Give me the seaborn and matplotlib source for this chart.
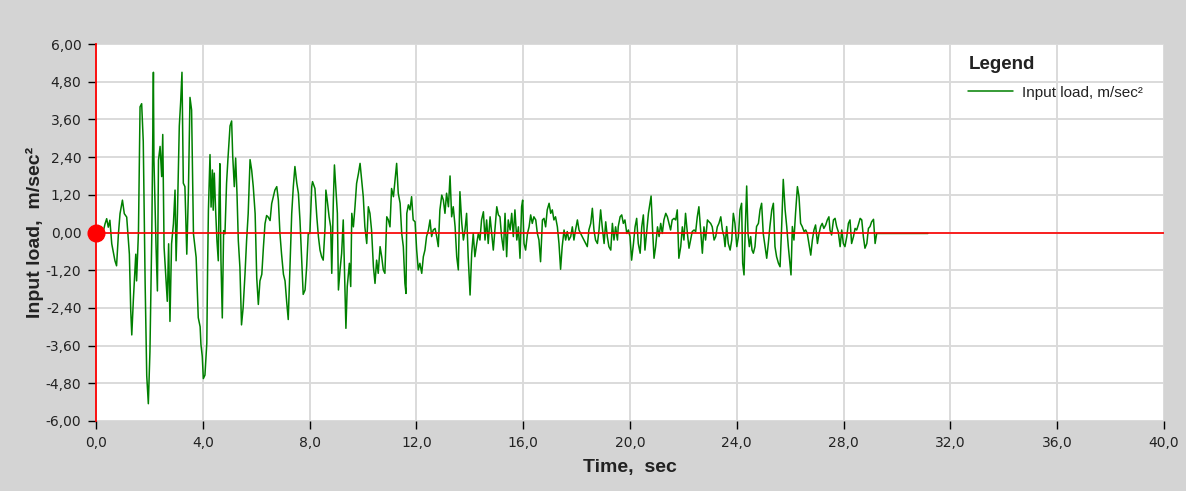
import numpy as np
import pandas as pd
import matplotlib
matplotlib.use("Agg")
import matplotlib.pyplot as plt
import seaborn as sns

# ---- data (time in s, acceleration in m/sec^2) ----
time_s = [
    0.00, 0.15, 0.25, 0.34, 0.40, 0.46, 0.52, 0.59, 0.71, 0.77, 0.84, 0.90, 0.99, 1.06, 1.15, 1.25,
    1.30, 1.34, 1.40, 1.49, 1.52, 1.59, 1.65, 1.71, 1.77, 1.84, 1.90, 1.96, 2.02, 2.09, 2.15, 2.17,
    2.25, 2.30, 2.34, 2.40, 2.46, 2.50, 2.55, 2.62, 2.67, 2.72, 2.77, 2.83, 2.90, 2.96, 3.00, 3.05,
    3.12, 3.17, 3.22, 3.27, 3.33, 3.40, 3.46, 3.52, 3.58, 3.65, 3.75, 3.83, 3.90,
    3.93, 3.98, 4.02, 4.08, 4.15, 4.18, 4.21, 4.27, 4.31, 4.36, 4.39, 4.43, 4.48, 4.53, 4.58, 4.61,
    4.64, 4.68, 4.73, 4.78, 4.83, 4.89, 4.94, 5.02, 5.08, 5.12, 5.18, 5.23, 5.28, 5.33, 5.39, 5.45,
    5.51, 5.58, 5.64, 5.70, 5.77, 5.83, 5.89, 5.96, 6.02, 6.08, 6.14, 6.21, 6.27, 6.33, 6.39, 6.45,
    6.52, 6.58, 6.64, 6.70, 6.77, 6.83, 6.89, 6.95, 7.02, 7.08, 7.14, 7.20, 7.27, 7.33, 7.39, 7.45,
    7.52, 7.58, 7.64, 7.70, 7.76,
    7.83, 7.89, 7.95, 8.01, 8.08, 8.11, 8.20, 8.27, 8.33, 8.39, 8.45, 8.51, 8.58, 8.61, 8.66, 8.73,
    8.79, 8.83, 8.89, 8.93, 8.98, 9.04, 9.08, 9.14, 9.20, 9.26, 9.33, 9.36, 9.41, 9.49, 9.54, 9.58,
    9.64, 9.70, 9.76, 9.83, 9.89, 9.95, 10.01, 10.07, 10.14, 10.20, 10.26, 10.32, 10.39, 10.45, 10.51,
    10.57, 10.64, 10.70, 10.76, 10.82, 10.89, 10.95, 11.01, 11.07, 11.14, 11.20, 11.26, 11.32, 11.39,
    11.45, 11.51, 11.57, 11.61, 11.64,
    11.70, 11.76, 11.82, 11.88, 11.95, 12.01, 12.07, 12.13, 12.20, 12.26, 12.32, 12.38, 12.45, 12.51,
    12.57, 12.63, 12.70, 12.76, 12.82, 12.88, 12.95, 13.01, 13.07, 13.13, 13.20, 13.26, 13.32, 13.38,
    13.45, 13.51, 13.57, 13.63, 13.70, 13.76, 13.82, 13.88, 13.94, 14.01, 14.07, 14.13, 14.19, 14.26,
    14.32, 14.38, 14.44, 14.51, 14.57, 14.63, 14.69, 14.76, 14.82, 14.88, 14.94, 15.01, 15.07, 15.13,
    15.19, 15.26, 15.32, 15.38, 15.44, 15.51, 15.57, 15.63,
    15.69, 15.76, 15.82, 15.88, 15.94, 15.98, 16.03, 16.09, 16.16, 16.22, 16.28, 16.34, 16.40, 16.47,
    16.53, 16.59, 16.65, 16.72, 16.78, 16.84, 16.90, 16.97, 17.03, 17.09, 17.15, 17.21, 17.28, 17.34,
    17.40, 17.46, 17.53, 17.59, 17.65, 17.71, 17.78, 17.84, 17.90, 17.96, 18.03, 18.09, 18.15, 18.21,
    18.28, 18.34, 18.40, 18.46, 18.53, 18.59, 18.65, 18.71, 18.78, 18.84, 18.90, 18.96, 19.03, 19.09,
    19.15, 19.21, 19.28, 19.34, 19.40, 19.46, 19.53,
    19.56, 19.63, 19.69, 19.75, 19.81, 19.88, 19.94, 20.00, 20.06, 20.13, 20.19, 20.25, 20.31, 20.38,
    20.44, 20.50, 20.56, 20.63, 20.69, 20.75, 20.79, 20.84, 20.90, 20.96, 21.03, 21.09, 21.15, 21.21,
    21.27, 21.34, 21.40, 21.46, 21.52, 21.58, 21.65, 21.71, 21.77, 21.83, 21.90, 21.96, 22.02, 22.08,
    22.15, 22.21, 22.27, 22.33, 22.40, 22.46, 22.52, 22.58, 22.65, 22.71, 22.77, 22.83, 22.90, 22.96,
    23.02, 23.08, 23.15, 23.21, 23.27, 23.33, 23.40, 23.46, 23.52,
    23.56, 23.62, 23.68, 23.75, 23.81, 23.87, 23.93, 24.00, 24.06, 24.12, 24.18, 24.22, 24.27, 24.32,
    24.37, 24.42, 24.47, 24.52, 24.57, 24.62, 24.68, 24.74, 24.81, 24.87, 24.93, 24.99, 25.06, 25.12,
    25.18, 25.24, 25.31, 25.37, 25.43, 25.49, 25.56, 25.62, 25.68, 25.74, 25.81, 25.87, 25.93, 25.99,
    26.03, 26.08, 26.14, 26.20, 26.27, 26.33, 26.39, 26.45, 26.52, 26.58, 26.64, 26.70, 26.77, 26.83,
    26.89, 26.95, 27.02, 27.08, 27.14, 27.20, 27.26, 27.33, 27.39, 27.45,
    27.49, 27.55, 27.62, 27.68, 27.74, 27.80, 27.87, 27.93, 27.99, 28.05, 28.12, 28.18, 28.24, 28.30,
    28.37, 28.43, 28.49, 28.55, 28.62, 28.68, 28.74, 28.80, 28.87, 28.93, 28.99, 29.05, 29.12, 29.18,
    29.24, 29.30, 31.16,
]

accel = [
    0.00, 0.05, -0.05, 0.28, 0.44, 0.17, 0.39, -0.36, -0.90, -1.06, -0.04, 0.60, 1.03, 0.60, 0.49, -0.69,
    -2.46, -3.26, -2.13, -0.69, -1.54, 0.01, 4.00, 4.10, 2.90, -1.60, -4.55, -5.45, -3.80, -0.04, 5.10, 2.30,
    -0.47, -1.86, 2.30, 2.74, 1.78, 3.12, -0.47, -1.44, -2.19, -0.36, -2.83, -0.36, 0.28, 1.35, -0.90, 0.60,
    3.39, 4.14, 5.10, 1.57, 1.46, -0.69, 1.25, 4.30, 3.90, -0.04, -0.79, -2.71, -3.00,
    -3.56, -3.94, -4.65, -4.54, -3.52, -1.11, 0.71, 2.48, 0.81, 1.99, 0.71, 1.89, 0.71, -0.26, -0.90, 1.14,
    2.19, -0.90, -2.72, 0.06, -0.04, 1.57, 2.32, 3.39, 3.55, 2.44, 1.46, 2.37, 1.25, -0.26, -1.11, -2.94,
    -2.40, -1.33, -0.26, 0.60, 2.32, 1.99, 1.46, 0.60, -1.44, -2.29, -1.54, -1.33, -0.47, 0.28, 0.54, 0.49,
    0.38, 0.92, 1.14, 1.35, 1.46, 1.03, -0.04, -0.69, -1.33, -1.54, -2.19, -2.77, -0.90, 0.60, 1.46, 2.10,
    1.57, 1.25, 0.38, -0.79, -1.97,
    -1.83, -1.09, -0.03, -0.03, 1.46, 1.62, 1.40, 0.50, -0.13, -0.56, -0.77, -0.88, 0.18, 1.35, 1.03, 0.50,
    0.18, -1.30, 1.03, 2.15, 1.46, 0.61, -1.83, -1.19, -0.66, 0.40, -1.94, -3.05, -1.72, -0.98, -1.72, 0.61,
    0.18, 0.82, 1.56, 1.88, 2.20, 1.67, 1.14, 0.18, -0.35, 0.82, 0.61, 0.08, -1.09, -1.62, -0.88,
    -1.30, -0.45, -0.77, -1.19, -1.30, 0.50, 0.40, 0.18, 1.40, 1.14, 1.67, 2.20, 1.25, 0.93,
    -0.03, -0.45, -1.62, -1.94, 0.61,
    0.88, 0.72, 1.14, 0.40, 0.34, -0.56, -1.19, -0.98, -1.30, -0.77, -0.56, -0.13, 0.08, 0.40,
    -0.13, 0.08, 0.13, -0.13, -0.45, 0.72, 1.19, 1.03, 0.61, 1.25, 0.82, 1.80, 0.50, 0.82,
    0.18, -0.77, -1.19, 1.30, 0.29, -0.24, 0.08, 0.61, -0.77, -1.99, -0.66, -0.03, -0.77, -0.35,
    -0.03, -0.24, 0.40, 0.66, -0.24, 0.40, -0.35, 0.50, -0.03, -0.56, 0.08, 0.82, 0.56, 0.50,
    -0.13, -0.56, 0.61, -0.77, 0.40, 0.08, 0.61, -0.13,
    0.72, -0.24, 0.18, -0.82, 0.82, 1.03, -0.35, -0.56, -0.03, 0.18, 0.56, 0.29, 0.50, 0.40,
    -0.03, -0.24, -0.93, 0.40, 0.45, 0.18, 0.72, 0.93, 0.61, 0.72, 0.40, 0.50, 0.18, -0.35,
    -1.17, -0.45, 0.08, -0.24, 0.03, -0.24, -0.13, 0.18, -0.24, 0.08, 0.40, 0.08, -0.03, -0.13,
    -0.24, -0.35, -0.45, 0.08, 0.29, 0.77, 0.08, -0.24, -0.35, 0.08, 0.72, 0.18, -0.35, 0.34,
    -0.13, -0.45, -0.56, 0.29, -0.24, 0.18, -0.24,
    0.19, 0.50, 0.56, 0.29, 0.40, -0.03, 0.08, -0.13, -0.88, -0.35, 0.18, 0.45, -0.35, -0.66,
    0.18, 0.56, -0.56, 0.08, 0.61, 0.93, 1.16, 0.18, -0.82, -0.45, 0.18, -0.13, 0.29, -0.03,
    0.40, 0.61, 0.50, 0.29, 0.08, 0.40, 0.45, 0.40, 0.72, -0.82, -0.45, 0.18, -0.24, 0.61,
    -0.03, -0.50, -0.24, 0.03, 0.08, 0.03, 0.50, 0.82, 0.03, -0.66, 0.18, -0.24, 0.40, 0.34,
    0.29, 0.18, -0.24, -0.13, 0.18, 0.29, 0.50, 0.08, -0.13,
    -0.45, 0.19, -0.35, -0.56, -0.24, 0.61, 0.29, -0.45, -0.13, 0.72, 0.93, -0.98, -1.35, 0.19,
    1.48, -0.03, -0.45, -0.13, -0.56, -0.66, -0.45, 0.19, 0.29, 0.72, 0.93, -0.03, -0.45, -0.82,
    -0.35, 0.19, 0.72, 0.93, -0.45, -0.77, -0.98, -1.09, 0.19, 1.69, 0.72, 0.19, -0.45, -0.98,
    -1.35, 0.19, -0.24, 0.61, 1.46, 1.14, 0.29, 0.19, 0.03, 0.08, -0.03, -0.35, -0.72, -0.24,
    0.08, 0.24, -0.35, -0.03, 0.19, 0.29, 0.13, 0.24, 0.40, 0.50,
    0.08, -0.08, 0.40, 0.45, 0.19, 0.03, -0.45, 0.08, -0.35, -0.45, -0.13, 0.29, 0.40, -0.35,
    -0.13, 0.13, 0.08, 0.24, 0.45, 0.40, -0.13, -0.50, -0.35, 0.13, 0.19, 0.34, 0.42, -0.35,
    -0.03, -0.03, -0.03,
]

x_ticks = [0, 4, 8, 12, 16, 20, 24, 28, 32, 36, 40]
x_tick_labels = ["0,0", "4,0", "8,0", "12,0", "16,0", "20,0", "24,0", "28,0", "32,0", "36,0", "40,0"]
y_ticks = [-6.0, -4.8, -3.6, -2.4, -1.2, 0.0, 1.2, 2.4, 3.6, 4.8, 6.0]
y_tick_labels = ["-6,00", "-4,80", "-3,60", "-2,40", "-1,20", "0,00", "1,20", "2,40", "3,60", "4,80", "6,00"]

series_label = "Input load, m/sec²"

# ---- style ----
sns.set_theme(style="whitegrid")
plt.rcParams["font.family"] = ["DejaVu Sans"]

W, H = 1186, 491
fig = plt.figure(figsize=(W / 100, H / 100), dpi=100, facecolor="#d4d4d4")
ax = fig.add_axes([96 / W, (H - 421) / H, (1164 - 96) / W, (421 - 44) / H])
ax.set_facecolor("white")

df = pd.DataFrame({"Time": time_s, "Accel": accel})
sns.lineplot(data=df, x="Time", y="Accel", ax=ax, color="#008000", linewidth=1.1,
             label=series_label, sort=False, estimator=None, zorder=2)

ax.axhline(0, color="red", linewidth=1.2, zorder=3)
ax.plot([0], [0], marker="o", color="red", markersize=12, clip_on=False, zorder=6, linestyle="none")

ax.set_xlim(0, 40)
ax.set_ylim(-6, 6)
ax.set_xticks(x_ticks)
ax.set_xticklabels(x_tick_labels)
ax.set_yticks(y_ticks)
ax.set_yticklabels(y_tick_labels)

ax.grid(True, color="#dadada", linewidth=1.4, zorder=0)
ax.set_axisbelow(True)

for side in ["top", "right", "bottom"]:
    ax.spines[side].set_visible(False)
ax.spines["left"].set_color("red")
ax.spines["left"].set_linewidth(1.3)
ax.spines["left"].set_zorder(5)

ax.tick_params(axis="both", which="major", bottom=True, left=True, direction="out",
               length=6, width=1, color="black", labelsize=10, labelcolor="#222222", pad=4.5)

ax.set_xlabel("Time,  sec", fontsize=14, fontweight="bold", family="Liberation Sans", color="#222222")
ax.set_ylabel("Input load,  m/sec²", fontsize=14, fontweight="bold", family="Liberation Sans", color="#222222")
ax.xaxis.set_label_coords(0.5, -(459 - 421) / (421 - 44))
ax.yaxis.set_label_coords(-(96 - 44) / (1164 - 96), 0.5)

leg = ax.legend(title="Legend", loc="upper left", bbox_to_anchor=(0.811, 0.985), frameon=False,
                prop={"family": "Liberation Sans", "size": 11},
                title_fontproperties={"family": "Liberation Sans", "weight": "bold", "size": 13.5},
                alignment="left", handlelength=2.9, handletextpad=0.6, borderaxespad=0,
                labelspacing=0.85)
for t in leg.get_texts():
    t.set_color("#222222")
leg.get_title().set_color("#222222")

fig.savefig("out.png", dpi=100, facecolor=fig.get_facecolor())
